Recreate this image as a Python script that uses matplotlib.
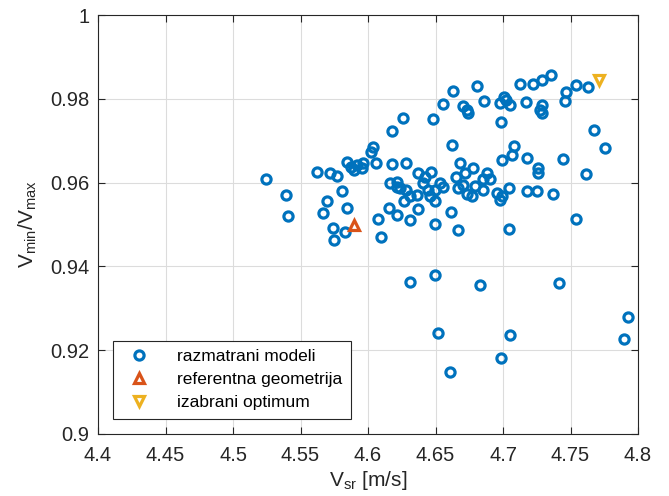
import numpy as np
import matplotlib
matplotlib.use("Agg")
import matplotlib.pyplot as plt

plt.rcParams['font.family'] = ['Liberation Sans', 'DejaVu Sans']
plt.rcParams['mathtext.default'] = 'regular'

# razmatrani modeli (V_sr [m/s], V_min/V_max)
v_sr = [4.5244, 4.5393, 4.5410, 4.5619, 4.5721, 4.5773, 4.5842, 4.5874, 4.5916, 4.5953,
        4.5965, 4.6059, 4.6035, 4.6020, 4.6178, 4.6261, 4.6176, 4.6281, 4.5807, 4.5699,
        4.5847, 4.5664, 4.5739, 4.5830, 4.5748, 4.6096, 4.6074, 4.6159, 4.6211, 4.6370,
        4.6311, 4.6496, 4.6373, 4.6422, 4.6163, 4.6213, 4.6213, 4.6237, 4.6281, 4.6361,
        4.6311, 4.6267, 4.6407, 4.6441, 4.6467, 4.6496, 4.6459, 4.6496, 4.6533, 4.6558,
        4.6652, 4.6719, 4.6681, 4.6776, 4.6669, 4.6706, 4.6731, 4.6768, 4.6793, 4.6854,
        4.6879, 4.6854, 4.6904, 4.6953, 4.6990, 4.6978, 4.7041, 4.6620, 4.6478, 4.6558,
        4.6632, 4.6805, 4.6706, 4.6731, 4.6743, 4.6859, 4.6978, 4.7007, 4.7022, 4.7052,
        4.6983, 4.7168, 4.7126, 4.7224, 4.7287, 4.7353, 4.7291, 4.7274, 4.7287, 4.7467,
        4.7541, 4.7632, 4.7459, 4.7674, 4.7758, 4.7442, 4.7613, 4.7084, 4.7064, 4.6990,
        4.7175, 4.7261, 4.7261, 4.7175, 4.7254, 4.7367, 4.7537, 4.7047, 4.6670, 4.6615,
        4.6311, 4.6499, 4.6832, 4.7415, 4.7926, 4.7896, 4.6516, 4.7052, 4.6987, 4.6605,
        4.5896]
v_ratio = [0.9609, 0.9571, 0.9521, 0.9626, 0.9624, 0.9617, 0.9649, 0.9638, 0.9642, 0.9634,
           0.9646, 0.9646, 0.9686, 0.9674, 0.9724, 0.9755, 0.9644, 0.9646, 0.9579, 0.9557,
           0.9540, 0.9527, 0.9492, 0.9481, 0.9463, 0.9469, 0.9512, 0.9540, 0.9523, 0.9537,
           0.9510, 0.9501, 0.9624, 0.9614, 0.9599, 0.9602, 0.9590, 0.9587, 0.9583, 0.9571,
           0.9567, 0.9555, 0.9599, 0.9583, 0.9626, 0.9583, 0.9567, 0.9555, 0.9599, 0.9590,
           0.9614, 0.9623, 0.9646, 0.9634, 0.9587, 0.9595, 0.9573, 0.9567, 0.9592, 0.9583,
           0.9622, 0.9608, 0.9608, 0.9575, 0.9567, 0.9559, 0.9587, 0.9690, 0.9753, 0.9787,
           0.9819, 0.9831, 0.9782, 0.9774, 0.9766, 0.9794, 0.9790, 0.9805, 0.9798, 0.9786,
           0.9744, 0.9792, 0.9835, 0.9835, 0.9845, 0.9857, 0.9786, 0.9774, 0.9766, 0.9817,
           0.9833, 0.9829, 0.9794, 0.9726, 0.9683, 0.9656, 0.9621, 0.9688, 0.9666, 0.9654,
           0.9658, 0.9634, 0.9622, 0.9579, 0.9579, 0.9573, 0.9514, 0.9489, 0.9488, 0.9531,
           0.9363, 0.9379, 0.9355, 0.9359, 0.9280, 0.9227, 0.9240, 0.9237, 0.9180, 0.9148,
           0.9630]

ref_sr, ref_ratio = [4.5894], [0.9498]
opt_sr, opt_ratio = [4.7713], [0.9845]

fig = plt.figure(figsize=(6.69, 4.96), dpi=100)
ax = fig.add_axes([0.1465, 0.1256, 0.8072, 0.8436])

ax.plot(v_sr, v_ratio, 'o', ls='none', ms=6.6, mew=2.3, mfc='none', mec='#0072BD',
        label='razmatrani modeli')
ax.plot(ref_sr, ref_ratio, '^', ls='none', ms=6.6, mew=2.3, mfc='none', mec='#D95319',
        label='referentna geometrija')
ax.plot(opt_sr, opt_ratio, 'v', ls='none', ms=6.6, mew=2.3, mfc='none', mec='#EDB120',
        label='izabrani optimum')

ax.set_xlim(4.4, 4.8)
ax.set_ylim(0.9, 1.0)
ax.set_xticks(np.arange(4.4, 4.81, 0.05))
ax.set_xticklabels(['4.4', '4.45', '4.5', '4.55', '4.6', '4.65', '4.7', '4.75', '4.8'])
ax.set_yticks(np.arange(0.9, 1.001, 0.02))
ax.set_yticklabels(['0.9', '0.92', '0.94', '0.96', '0.98', '1'])
ax.grid(True, color='#dcdcdc', linewidth=0.8)
ax.set_axisbelow(True)
ax.tick_params(direction='in', top=True, right=True, labelsize=14.5, colors='#262626',
               length=5, width=0.8)
ax.tick_params(axis='x', pad=9)
ax.tick_params(axis='y', pad=6)
for s in ax.spines.values():
    s.set_color('#262626')
    s.set_linewidth(0.8)

ax.set_xlabel('V$_{sr}$ [m/s]', fontsize=15, color='#262626', labelpad=3)
ax.set_ylabel('V$_{min}$/V$_{max}$', fontsize=15, color='#262626', labelpad=8)

leg = ax.legend(loc='lower left', bbox_to_anchor=(0.028, 0.035), borderaxespad=0,
                fontsize=12.5, fancybox=False, framealpha=1, edgecolor='#262626',
                handletextpad=1.2, borderpad=0.5, labelspacing=0.45)
leg.get_frame().set_linewidth(0.8)

fig.savefig('out.png', dpi=100)
